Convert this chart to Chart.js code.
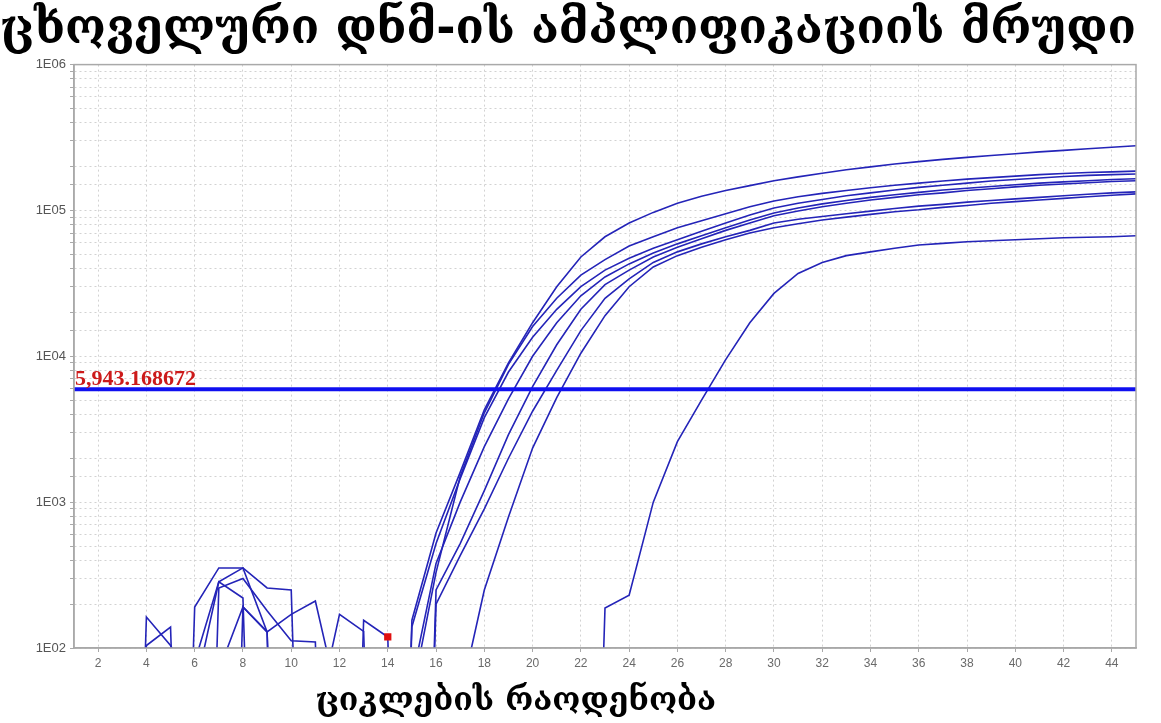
<!DOCTYPE html>
<html><head><meta charset="utf-8">
<script src="https://cdn.jsdelivr.net/npm/chart.js@4.4.1/dist/chart.umd.min.js"></script>
<style>html,body{margin:0;padding:0;background:#fff}canvas{display:block}</style>
</head><body>
<canvas id="c" width="1161" height="723"></canvas>
<script>
const chartTitle = 'ცხოველური დნმ-ის ამპლიფიკაციის მრუდი';
const xAxisTitle = 'ციკლების რაოდენობა';
const cycles = [1,2,3,4,5,6,7,8,9,10,11,12,13,14,15,16,17,18,19,20,21,22,23,24,25,26,27,28,29,30,31,32,33,34,35,36,37,38,39,40,41,42,43,44,45];
const xTickValues = [2,4,6,8,10,12,14,16,18,20,22,24,26,28,30,32,34,36,38,40,42,44];
const yDecadeTicks = [100,1000,10000,100000,1000000];
const threshold = 5943.168672;
const selectedCycle = 14;

const curve1 = [0.001,0.001,0.001,163,104,50,284,354,258,250,0.001,0.001,0.001,0.001,
  155,615,1600,4300,9000,17000,30000,48000,66000,82000,97000,112000,125000,137000,148000,160000,170000,180000,190000,199000,208000,216000,224000,231000,238000,245000,252000,258000,265000,271000,278000];
const curve2 = [0.001,0.001,0.001,104,139,0.001,0.001,191,129,170,210,40,0.001,0.001,
  47,330,1500,4100,8800,16000,25000,36000,46000,57000,66000,76000,85000,95000,106000,116000,124000,131000,137000,143000,149000,154000,159000,164000,168000,172000,176000,179000,182000,184000,186000];
const curve3 = [0.001,0.001,0.001,0.001,0.001,191,354,354,129,0.001,0.001,0.001,0.001,0.001,
  140,520,1450,3800,7800,13500,21000,30000,39000,47000,55000,63000,72000,82000,93000,104000,112000,119000,126000,132000,138000,144000,149000,154000,159000,163000,167000,171000,174000,176000,178000];
const curve4 = [0.001,0.001,0.001,0.001,0.001,0.001,258,300,180,112,110,0.001,0.001,0.001,
  60,380,1000,2400,5100,10000,17000,26000,35000,43000,51000,59000,67000,76000,86000,96000,104000,111000,117000,123000,128000,133000,138000,142000,146000,150000,154000,157000,160000,163000,165000];
const curve5 = [0.001,0.001,0.001,0.001,0.001,80,284,220,0.001,0.001,0.001,0.001,0.001,0.001,
  0.001,250,520,1200,2900,6200,12000,21000,31000,39000,48000,56000,64000,73000,82000,92000,99000,106000,112000,118000,123000,128000,132000,137000,141000,145000,149000,152000,155000,158000,160000];
const curve6 = [0.001,0.001,0.001,0.001,0.001,0.001,0.001,0.001,0.001,0.001,30,170,130,0.001,
  0.001,200,430,900,2000,4200,8000,15000,25000,34000,44000,52000,59000,66000,73000,82000,87000,91000,95000,99000,103000,107000,110000,114000,117000,120000,123000,126000,129000,132000,134000];
const curve7 = [0.001,0.001,0.001,0.001,0.001,0.001,0.001,0.001,0.001,0.001,0.001,0.001,155,119,
  0.001,0.001,45,250,790,2350,5200,10500,19000,30000,41000,49000,56000,63000,70000,76000,81000,86000,90000,94000,98000,101000,105000,108000,112000,115000,118000,121000,124000,127000,130000];
const curve8 = [0.001,0.001,0.001,0.001,0.001,0.001,70,191,129,0.001,0.001,0.001,0.001,0.001,
  0.001,0.001,0.001,0.001,0.001,0.001,0.001,0.001,188,230,1000,2600,5000,9500,17000,27000,37000,44000,49000,52000,55000,58000,59500,61000,62000,63000,64000,65000,65500,66000,67000];

const curves = [curve1,curve2,curve3,curve4,curve5,curve6,curve7,curve8];
const curveNames = ['A1','A2','A3','A4','A5','A6','A7','A8'];
const selectedCurve = 6;

const thresholdLabel = threshold.toLocaleString('en-US',{minimumFractionDigits:6,maximumFractionDigits:6});
const lineColor = '#2424b8';

const datasets = [{
  label:'Threshold',
  data:[{x:cycles[0],y:threshold},{x:cycles[cycles.length-1],y:threshold}],
  borderColor:'#1010f0', borderWidth:4, pointRadius:0, tension:0
}];
curves.forEach((vals,k)=>{
  datasets.push({
    label:curveNames[k],
    data:cycles.map((c,i)=>({x:c,y:vals[i]})),
    borderColor:lineColor, borderWidth:1.6, tension:0,
    pointStyle:'rect',
    pointRadius: k===selectedCurve ? (ctx)=> (cycles[ctx.dataIndex]===selectedCycle?4:0) : 0,
    pointBackgroundColor:'#e01010', pointBorderColor:'#e01010'
  });
});

const decor = {
  id:'decor',
  afterDatasetsDraw(chart){
    const {ctx, chartArea:a, scales:{y}} = chart;
    ctx.save();
    ctx.setLineDash([]);
    ctx.strokeStyle = '#a9a9a9'; ctx.lineWidth = 1.5;
    ctx.strokeRect(a.left, a.top, a.right-a.left, a.bottom-a.top);
    const ty = y.getPixelForValue(threshold);
    ctx.font = 'bold 22px "Liberation Serif"';
    ctx.fillStyle = '#cc1a1a'; ctx.textAlign='left'; ctx.textBaseline='alphabetic';
    ctx.fillText(thresholdLabel, a.left+1, ty-4);
    ctx.font = 'bold 32px "DejaVu Serif"';
    ctx.fillStyle = '#000'; ctx.textAlign='center';
    ctx.fillText(xAxisTitle, a.left + (a.right-a.left)*0.416, chart.height-13);
    ctx.restore();
  }
};

function isDecade(v){ const l=Math.log10(v); return Math.abs(l-Math.round(l))<1e-9; }

const gridOpts = {color:'#d2d2d2',tickLength:4,tickColor:'#a9a9a9',tickBorderDash:[]};
const borderOpts = {display:true,color:'#a9a9a9',width:1.5,dash:[2,3]};

new Chart(document.getElementById('c'),{
  type:'line',
  data:{datasets},
  plugins:[decor],
  options:{
    responsive:false, animation:false, devicePixelRatio:1,
    layout:{padding:{left:0,right:25,top:0,bottom:0}},
    plugins:{
      legend:{display:false}, tooltip:{enabled:false},
      title:{display:true,text:chartTitle,color:'#000',
        font:{family:'"DejaVu Serif"',size:48,weight:'bold',lineHeight:1.2},
        padding:{top:2,bottom:5}}
    },
    scales:{
      x:{type:'linear',min:cycles[0],max:cycles[cycles.length-1],
        afterBuildTicks(s){ s.ticks = xTickValues.map(v=>({value:v})); },
        afterFit(s){ s.height = 75; },
        grid:gridOpts, border:borderOpts,
        ticks:{autoSkip:false,maxRotation:0,padding:4,color:'#6a6a6a',
          font:{family:'"Liberation Sans"',size:12},callback:v=>String(v)}
      },
      y:{type:'logarithmic',min:yDecadeTicks[0],max:yDecadeTicks[yDecadeTicks.length-1],
        afterFit(s){ s.width = 74; },
        grid:gridOpts, border:borderOpts,
        ticks:{autoSkip:false,padding:4,color:'#555',
          font:{family:'"Liberation Sans"',size:13},
          callback:v=> isDecade(v) ? '1E'+String(Math.round(Math.log10(v))).padStart(2,'0') : ''}
      }
    }
  }
});
</script>
</body></html>
